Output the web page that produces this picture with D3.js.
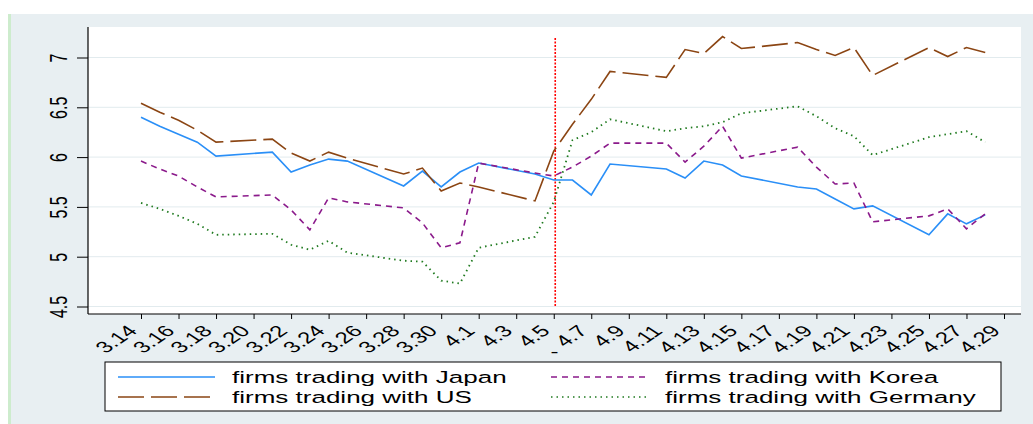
<!DOCTYPE html>
<html>
<head>
<meta charset="utf-8">
<script src="https://cdnjs.cloudflare.com/ajax/libs/d3/7.8.5/d3.min.js"></script>
<style>
body { margin: 0; background: #fff; }
svg { display: block; font-family: "Liberation Sans", Arial, sans-serif; }
</style>
</head>
<body>
<svg width="1033" height="424"></svg>
<script>

// trading days, 2011
let dates = ["3.14","3.15","3.16","3.17","3.18","3.21","3.22","3.23","3.24","3.25",
             "3.28","3.29","3.30","3.31","4.1","4.4","4.5","4.6","4.7","4.8",
             "4.11","4.12","4.13","4.14","4.15","4.18","4.19","4.20","4.21","4.22",
             "4.25","4.26","4.27","4.28"];

let japan = [6.40,6.31,6.23,6.15,6.01, 6.05,5.85,5.92,5.98,5.96,
             5.71,5.86,5.70,5.85,5.94, 5.83,5.77,5.77,5.62,5.93,
             5.88,5.79,5.96,5.92,5.81, 5.70,5.68,5.58,5.48,5.51,
             5.22,5.43,5.33,5.42];

let korea = [5.96,5.88,5.81,5.70,5.60, 5.62,5.47,5.27,5.59,5.55,
             5.49,5.34,5.09,5.14,5.94, 5.84,5.81,5.90,6.01,6.14,
             6.14,5.95,6.11,6.31,5.99, 6.10,5.90,5.73,5.74,5.35,
             5.41,5.48,5.28,5.43];

let us = [6.54,6.45,6.37,6.27,6.15, 6.18,6.04,5.96,6.05,5.99,
          5.83,5.89,5.66,5.74,5.70, 5.56,6.06,6.33,6.58,6.86,
          6.80,7.08,7.04,7.21,7.09, 7.15,7.08,7.02,7.10,6.82,
          7.10,7.01,7.10,7.05];

let germany = [5.54,5.48,5.41,5.33,5.22, 5.23,5.12,5.07,5.16,5.04,
               4.96,4.95,4.76,4.73,5.09, 5.20,5.55,6.17,6.25,6.38,
               6.26,6.29,6.31,6.35,6.44, 6.51,6.41,6.29,6.21,6.02,
               6.20,6.23,6.26,6.15];

let xTicks = ["3.14","3.16","3.18","3.20","3.22","3.24","3.26","3.28","3.30",
              "4.1","4.3","4.5","4.7","4.9","4.11","4.13","4.15","4.17","4.19",
              "4.21","4.23","4.25","4.27","4.29"];
let yTicks = [4.5, 5, 5.5, 6, 6.5, 7];
let eventDate = "4.5";

let series = [
    {name: "firms trading with Japan",   values: japan,   color: "#2a8ff7", dash: null},
    {name: "firms trading with Korea",   values: korea,   color: "#8b1a8b", dash: "6,5"},
    {name: "firms trading with US",      values: us,      color: "#8b4513", dash: "26,7"},
    {name: "firms trading with Germany", values: germany, color: "#1f7a1f", dash: "1.5,4"}
];

let svg = d3.select("svg"),
    margin = {top: 27, right: 12, bottom: 110, left: 88},
    width = +svg.attr("width") - margin.left - margin.right,
    height = +svg.attr("height") - margin.top - margin.bottom;

let stretch = 1.5; // the original picture is widened, text included

let parse = function(s) { return d3.utcParse("%Y.%m.%d")("2011." + s); };

// page background
svg.append("rect").attr("x", 8).attr("y", 14).attr("width", 1025).attr("height", 410).attr("fill", "#e8eff2");
svg.append("rect").attr("x", 8).attr("y", 14).attr("width", 3).attr("height", 410).attr("fill", "#cdeccd");

let focus = svg.append("g")
    .attr("transform", "translate(" + margin.left + "," + margin.top + ")");

focus.append("rect").attr("width", width).attr("height", height).attr("fill", "#fff");

let x = d3.scaleUtc().domain([parse("3.14"), parse("4.29")]).range([53, 916]);
let y = d3.scaleLinear().domain([4.5, 7]).range([279.5, 30.5]);

// grid
focus.selectAll(".grid")
    .data(yTicks)
    .enter().append("line")
    .attr("x1", 0).attr("x2", width)
    .attr("y1", function(d) { return y(d); })
    .attr("y2", function(d) { return y(d); })
    .attr("stroke", "#e2ebee")
    .attr("stroke-width", 1);

let line = d3.line()
    .x(function(d, i) { return x(parse(dates[i])); })
    .y(function(d) { return y(d); });

// event marker
focus.append("line")
    .attr("x1", x(parse(eventDate)) + 1.5).attr("x2", x(parse(eventDate)) + 1.5)
    .attr("y1", 11).attr("y2", 279)
    .attr("stroke", "#ff0000")
    .attr("stroke-width", 1.6)
    .attr("stroke-dasharray", "2,1.5");

series.forEach(function(s) {
    focus.append("path")
        .datum(s.values)
        .attr("fill", "none")
        .attr("stroke", s.color)
        .attr("stroke-width", s.dash === "1.5,4" ? 1.8 : 1.6)
        .attr("stroke-dasharray", s.dash)
        .attr("d", line);
});

// axes
let xAxis = d3.axisBottom(x)
    .tickValues(xTicks.map(parse))
    .tickFormat(d3.utcFormat("%-m.%-d"))
    .tickSize(5).tickSizeOuter(0);

let gx = focus.append("g")
    .attr("transform", "translate(0," + height + ")")
    .call(xAxis);
gx.select(".domain").remove();
gx.selectAll("text")
    .attr("x", 0).attr("y", 0).attr("dy", 0)
    .style("text-anchor", "end")
    .style("font-size", "16px")
    .attr("fill", "#000")
    .attr("transform", "translate(-3,18) scale(" + stretch + ",1) rotate(-45)");

let yAxis = d3.axisLeft(y)
    .tickValues(yTicks)
    .tickFormat(function(d) { return String(d); })
    .tickSize(11).tickSizeOuter(0);

let gy = focus.append("g").call(yAxis);
gy.select(".domain").remove();
gy.selectAll("text")
    .attr("x", 0).attr("y", 0).attr("dy", 0)
    .style("text-anchor", "middle")
    .style("font-size", "16px")
    .attr("fill", "#000")
    .attr("transform", "translate(-21,0) scale(" + stretch + ",1) rotate(-90)");

gx.selectAll(".tick line").attr("stroke", "#000");
gy.selectAll(".tick line").attr("stroke", "#000");

focus.append("line").attr("x1", 0).attr("x2", 0).attr("y1", 0).attr("y2", height)
    .attr("stroke", "#000").attr("stroke-width", 1.2);
focus.append("line").attr("x1", 0).attr("x2", width).attr("y1", height).attr("y2", height)
    .attr("stroke", "#000").attr("stroke-width", 1.2);

// x title (only a dash survives in the original)
svg.append("text")
    .attr("transform", "translate(" + (margin.left + width / 2) + ",357) scale(" + stretch + ",1)")
    .style("text-anchor", "middle")
    .style("font-size", "16px")
    .text("-");

// legend
let legend = svg.append("g").attr("transform", "translate(105,362)");
legend.append("rect")
    .attr("width", 896).attr("height", 49)
    .attr("fill", "#fff").attr("stroke", "#000").attr("stroke-width", 1);

let legendPos = [[0, 0], [1, 0], [0, 1], [1, 1]];
series.forEach(function(s, i) {
    let col = legendPos[i][0], row = legendPos[i][1];
    let lx = col === 0 ? 13 : 446,
        ly = 15 + row * 20;
    legend.append("line")
        .attr("x1", lx).attr("x2", lx + 97)
        .attr("y1", ly).attr("y2", ly)
        .attr("stroke", s.color)
        .attr("stroke-width", 1.6)
        .attr("stroke-dasharray", s.dash);
    legend.append("text")
        .attr("transform", "translate(" + (lx + 114) + "," + (ly + 6) + ") scale(1.53,1)")
        .style("font-size", "17px")
        .attr("fill", "#000")
        .text(s.name);
});

</script>
</body>
</html>
